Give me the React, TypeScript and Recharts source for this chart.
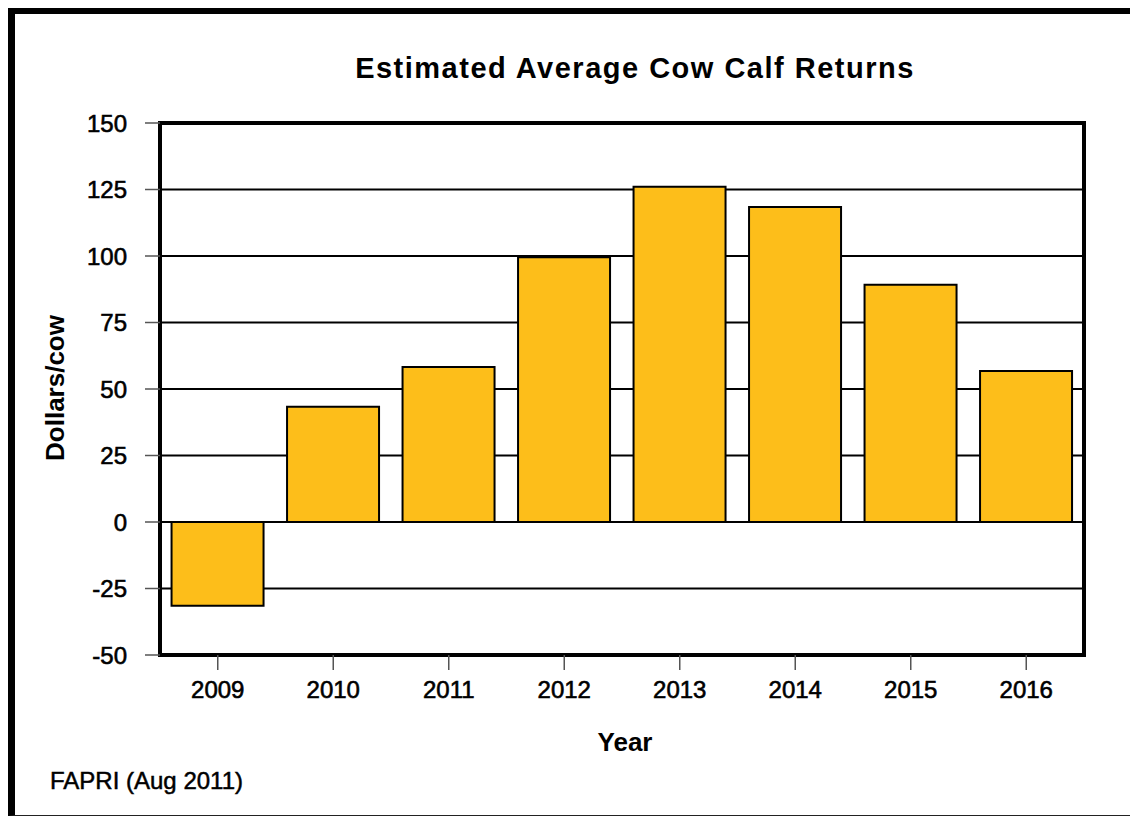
import { BarChart, Bar, XAxis, YAxis, CartesianGrid, ReferenceArea } from 'recharts';

const years = ['2009', '2010', '2011', '2012', '2013', '2014', '2015', '2016'];
const returns = [-31.5, 43.3, 58.3, 99.5, 126, 118.4, 89.2, 56.8];
const yTicks = [-50, -25, 0, 25, 50, 75, 100, 125, 150];

const data = years.map((year, i) => ({ year, value: returns[i] }));

const font = '"Liberation Sans", Arial, sans-serif';
const tickStyle = { fill: '#000', fontSize: 24, fontFamily: font, stroke: '#000', strokeWidth: 0.6 };

export default function App() {
  return (
    <div style={{ position: 'relative', width: 1130, height: 810, fontFamily: font, background: '#fff' }}>
      {/* outer frame, cut off at the right edge */}
      <div
        style={{
          position: 'absolute',
          left: 0,
          top: 0,
          width: 1130,
          height: 808,
          boxSizing: 'border-box',
          borderLeft: '7px solid #000',
          borderTop: '6px solid #000',
          borderBottom: '1px solid #222',
        }}
      />
      <div style={{ position: 'absolute', left: 0, top: 0 }}>
        <BarChart
          width={1130}
          height={810}
          data={data}
          barCategoryGap="10%"
          margin={{ top: 115, right: 54, left: 72, bottom: 103 }}
        >
          <CartesianGrid vertical={false} stroke="#000" strokeWidth={2} />
          <XAxis
            dataKey="year"
            height={60}
            axisLine={{ stroke: '#000', strokeWidth: 4 }}
            tickLine={{ stroke: '#555', strokeWidth: 1.5 }}
            tickSize={15}
            tickMargin={11}
            tick={tickStyle}
          />
          <YAxis
            domain={[-50, 150]}
            ticks={yTicks}
            width={80}
            interval={0}
            axisLine={{ stroke: '#000', strokeWidth: 4 }}
            tickLine={{ stroke: '#555', strokeWidth: 1.5 }}
            tickSize={15}
            tickMargin={18}
            tick={tickStyle}
          />
          <ReferenceArea y1={-50} y2={150} fill="none" fillOpacity={0} stroke="#000" strokeWidth={4} />
          <Bar dataKey="value" fill="#FDBE1A" stroke="#000" strokeWidth={2} isAnimationActive={false} />
        </BarChart>
      </div>
      <div
        style={{
          position: 'absolute',
          left: 627,
          top: 60,
          transform: 'translate(-50%, -50%)',
          whiteSpace: 'nowrap',
          fontSize: 29,
          letterSpacing: 1.5,
          fontWeight: 'bold',
        }}
      >
        Estimated Average Cow Calf Returns
      </div>
      <div
        style={{
          position: 'absolute',
          left: 47,
          top: 380,
          transform: 'translate(-50%, -50%) rotate(-90deg)',
          whiteSpace: 'nowrap',
          fontSize: 26,
          fontWeight: 'bold',
        }}
      >
        Dollars/cow
      </div>
      <div
        style={{
          position: 'absolute',
          left: 617,
          top: 734,
          transform: 'translate(-50%, -50%)',
          whiteSpace: 'nowrap',
          fontSize: 26,
          fontWeight: 'bold',
        }}
      >
        Year
      </div>
      <div
        style={{
          position: 'absolute',
          left: 42,
          top: 773,
          transform: 'translateY(-50%)',
          whiteSpace: 'nowrap',
          fontSize: 24,
          WebkitTextStroke: '0.5px #000',
        }}
      >
        FAPRI (Aug 2011)
      </div>
    </div>
  );
}
